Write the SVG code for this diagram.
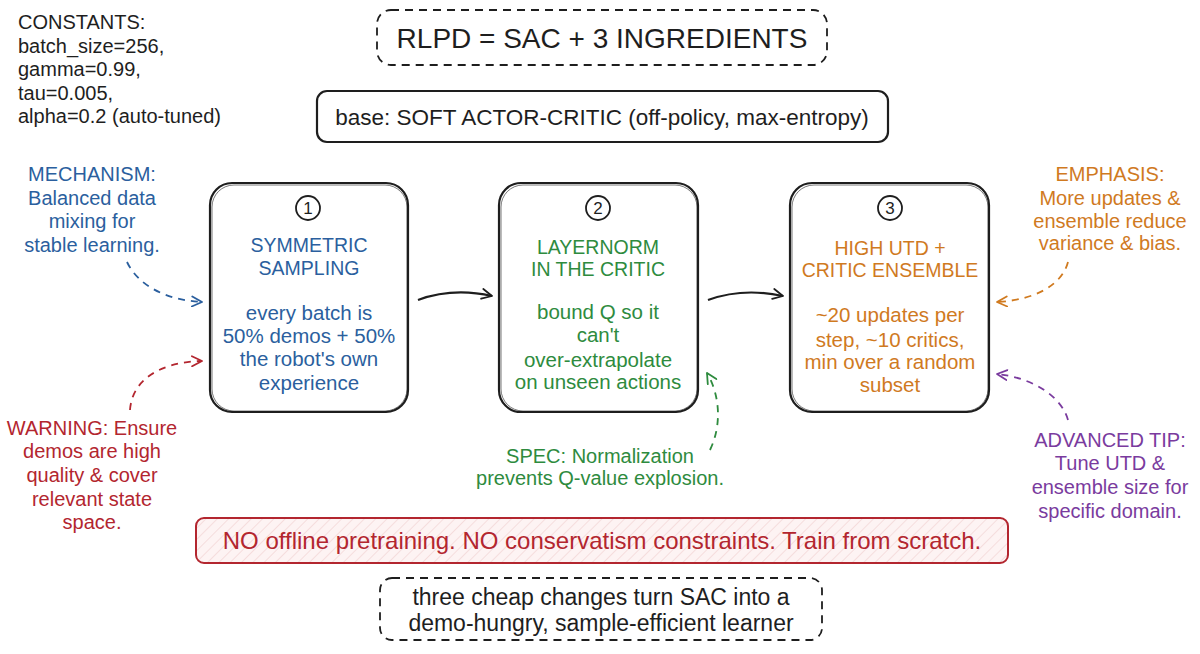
<svg xmlns="http://www.w3.org/2000/svg" width="1200" height="654" viewBox="0 0 1200 654">
<style>
text{font-family:"Liberation Sans","Noto Sans",sans-serif;text-anchor:middle}
.box{fill:#fff;stroke:#1e1e1e;stroke-width:2.2}
.box2{fill:none;stroke:#1e1e1e;stroke-width:1;opacity:.6}
.dash{fill:#fff;stroke:#1e1e1e;stroke-width:1.8;stroke-dasharray:8 6}
.num{fill:#fff;stroke:#1e1e1e;stroke-width:1.8}
.numt{font-size:17px;fill:#1e1e1e}
.k{fill:#1e1e1e}
.blue{fill:#2b5f9e}.green{fill:#2e8b3e}.orange{fill:#d07a1f}.red{fill:#b3262f}.purple{fill:#7a3b9e}
.t{font-size:19.5px}.b{font-size:20.5px}.a{font-size:20px}
.conn{fill:none;stroke-width:1.8}
.solid{stroke:#1e1e1e;stroke-width:2.2}
.dsh{stroke-dasharray:7 6}
.mk{fill:none;stroke-width:1.8;stroke-linecap:round;stroke-linejoin:round}
.c{text-anchor:start;font-size:20px}
</style>
<defs>
<marker id="mK" viewBox="0 0 12 12" refX="11" refY="6" markerWidth="12" markerHeight="12" markerUnits="userSpaceOnUse" orient="auto"><path class="mk" stroke="#1e1e1e" d="M1,1 L11,6 L1,11"/></marker>
<marker id="mB" viewBox="0 0 12 12" refX="11" refY="6" markerWidth="12" markerHeight="12" markerUnits="userSpaceOnUse" orient="auto"><path class="mk" stroke="#2b5f9e" d="M1,1 L11,6 L1,11"/></marker>
<marker id="mR" viewBox="0 0 12 12" refX="11" refY="6" markerWidth="12" markerHeight="12" markerUnits="userSpaceOnUse" orient="auto"><path class="mk" stroke="#b3262f" d="M1,1 L11,6 L1,11"/></marker>
<marker id="mG" viewBox="0 0 12 12" refX="11" refY="6" markerWidth="12" markerHeight="12" markerUnits="userSpaceOnUse" orient="auto"><path class="mk" stroke="#2e8b3e" d="M1,1 L11,6 L1,11"/></marker>
<marker id="mO" viewBox="0 0 12 12" refX="11" refY="6" markerWidth="12" markerHeight="12" markerUnits="userSpaceOnUse" orient="auto"><path class="mk" stroke="#d07a1f" d="M1,1 L11,6 L1,11"/></marker>
<marker id="mP" viewBox="0 0 12 12" refX="11" refY="6" markerWidth="12" markerHeight="12" markerUnits="userSpaceOnUse" orient="auto"><path class="mk" stroke="#7a3b9e" d="M1,1 L11,6 L1,11"/></marker>
<pattern id="hatch" width="8" height="8" patternUnits="userSpaceOnUse" patternTransform="rotate(45)"><rect width="8" height="8" fill="#fdf3f3"/><line x1="0" y1="0" x2="0" y2="8" stroke="#f3d6d6" stroke-width="1.5"/></pattern>
</defs>
<rect width="1200" height="654" fill="#fff"/>

<g id="constants">
<text class="k c" x="18" y="29">CONSTANTS:</text>
<text class="k c" x="18" y="53">batch_size=256,</text>
<text class="k c" x="18" y="76">gamma=0.99,</text>
<text class="k c" x="18" y="100">tau=0.005,</text>
<text class="k c" x="18" y="123">alpha=0.2 (auto-tuned)</text>
</g>

<g id="title">
<rect class="dash" x="377" y="10" width="450" height="55" rx="14"/>
<text class="k" style="font-size:28px" x="602" y="48">RLPD = SAC + 3 INGREDIENTS</text>
</g>

<g id="base">
<rect class="box" x="317" y="91" width="571" height="51" rx="10"/>
<text class="k" style="font-size:22.5px" x="602" y="125">base: SOFT ACTOR-CRITIC (off-policy, max-entropy)</text>
</g>

<g id="step1">
<rect class="box" x="210" y="183" width="198" height="229" rx="22"/>
<rect class="box2" x="212" y="185" width="195" height="226" rx="22"/>
<circle class="num" cx="308" cy="208" r="12"/>
<text class="numt" x="308" y="214">1</text>
<text class="blue t" x="309" y="252">SYMMETRIC</text>
<text class="blue t" x="309" y="275">SAMPLING</text>
<text class="blue b" x="309" y="320">every batch is</text>
<text class="blue b" x="309" y="343">50% demos + 50%</text>
<text class="blue b" x="309" y="366">the robot's own</text>
<text class="blue b" x="309" y="390">experience</text>
</g>

<g id="step2">
<rect class="box" x="499" y="183" width="199" height="229" rx="22"/>
<rect class="box2" x="501" y="185" width="196" height="226" rx="22"/>
<circle class="num" cx="598" cy="208" r="12"/>
<text class="numt" x="598" y="214">2</text>
<text class="green t" x="598" y="254">LAYERNORM</text>
<text class="green t" x="598" y="276">IN THE CRITIC</text>
<text class="green b" x="598" y="319">bound Q so it</text>
<text class="green b" x="598" y="342">can't</text>
<text class="green b" x="598" y="367">over-extrapolate</text>
<text class="green b" x="598" y="389">on unseen actions</text>
</g>

<g id="step3">
<rect class="box" x="790" y="183" width="199" height="229" rx="22"/>
<rect class="box2" x="792" y="185" width="196" height="226" rx="22"/>
<circle class="num" cx="890" cy="208" r="12"/>
<text class="numt" x="890" y="214">3</text>
<text class="orange t" x="890" y="255">HIGH UTD +</text>
<text class="orange t" x="890" y="277">CRITIC ENSEMBLE</text>
<text class="orange b" x="890" y="322">~20 updates per</text>
<text class="orange b" x="890" y="347">step, ~10 critics,</text>
<text class="orange b" x="890" y="369">min over a random</text>
<text class="orange b" x="890" y="392">subset</text>
</g>

<g id="mechanism">
<text class="blue a" x="92" y="181">MECHANISM:</text>
<text class="blue a" x="92" y="205">Balanced data</text>
<text class="blue a" x="92" y="228">mixing for</text>
<text class="blue a" x="92" y="252">stable learning.</text>
</g>

<g id="warning">
<text class="red a" x="92" y="435">WARNING: Ensure</text>
<text class="red a" x="92" y="458">demos are high</text>
<text class="red a" x="92" y="482">quality &amp; cover</text>
<text class="red a" x="92" y="506">relevant state</text>
<text class="red a" x="92" y="529">space.</text>
</g>

<g id="emphasis">
<text class="orange a" x="1110" y="181">EMPHASIS:</text>
<text class="orange a" x="1110" y="205">More updates &amp;</text>
<text class="orange a" x="1110" y="228">ensemble reduce</text>
<text class="orange a" x="1110" y="250">variance &amp; bias.</text>
</g>

<g id="advanced">
<text class="purple a" x="1110" y="447">ADVANCED TIP:</text>
<text class="purple a" x="1110" y="470">Tune UTD &amp;</text>
<text class="purple a" x="1110" y="494">ensemble size for</text>
<text class="purple a" x="1110" y="518">specific domain.</text>
</g>

<g id="spec">
<text class="green a" x="600" y="463">SPEC: Normalization</text>
<text class="green a" x="600" y="485">prevents Q-value explosion.</text>
</g>

<g id="warning-bar">
<rect x="196" y="518" width="812" height="45" rx="8" fill="url(#hatch)" stroke="#b3262f" stroke-width="2"/>
<text class="red" style="font-size:24px" x="602" y="549">NO offline pretraining. NO conservatism constraints. Train from scratch.</text>
</g>

<g id="summary">
<rect class="dash" x="380" y="578" width="442" height="62" rx="12"/>
<text class="k" style="font-size:23px" x="601" y="605">three cheap changes turn SAC into a</text>
<text class="k" style="font-size:23px" x="601" y="631">demo-hungry, sample-efficient learner</text>
</g>

<g id="connectors">
<path class="conn solid" d="M418,300 C440,292 465,290 492,296" marker-end="url(#mK)"/>
<path class="conn solid" d="M708,300 C730,292 755,290 783,296" marker-end="url(#mK)"/>
<path class="conn dsh" stroke="#2b5f9e" d="M127,262 C138,285 165,300 202,302" marker-end="url(#mB)"/>
<path class="conn dsh" stroke="#b3262f" d="M130,410 C132,380 160,362 202,361" marker-end="url(#mR)"/>
<path class="conn dsh" stroke="#2e8b3e" d="M710,450 C722,425 720,395 707,373" marker-end="url(#mG)"/>
<path class="conn dsh" stroke="#d07a1f" d="M1068,262 C1062,285 1035,300 997,302" marker-end="url(#mO)"/>
<path class="conn dsh" stroke="#7a3b9e" d="M1068,420 C1062,398 1035,378 997,374" marker-end="url(#mP)"/>
</g>
</svg>
